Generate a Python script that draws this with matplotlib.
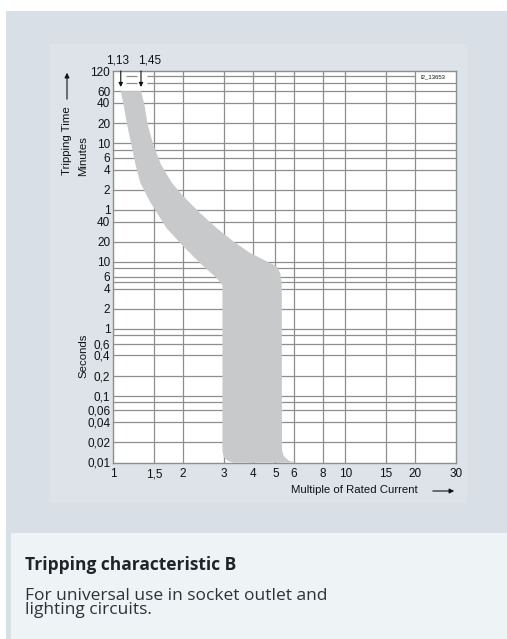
import matplotlib
matplotlib.use('Agg')
import matplotlib.pyplot as plt
from matplotlib.patches import Rectangle, FancyArrowPatch
from matplotlib.ticker import NullLocator

# ---------------- data ----------------
x_ticks = [1, 1.5, 2, 3, 4, 5, 6, 8, 10, 15, 20, 30]
x_grid = [1.5, 2, 3, 4, 5, 6, 8, 10, 15, 20]

# y axis in seconds; minute labels converted with *60
min_ticks = [120, 60, 40, 20, 10, 6, 4, 2, 1]
sec_ticks = [40, 20, 10, 6, 4, 2, 1, 0.6, 0.4, 0.2, 0.1, 0.06, 0.04, 0.02, 0.01]
min_grid = [60, 40, 20, 10, 8, 6, 4, 2, 1]
min_grid_top = [100, 80]
sec_grid = [40, 20, 10, 8, 6, 5, 4, 2, 1, 0.8, 0.6, 0.4, 0.2, 0.1, 0.08, 0.06, 0.04, 0.02]

# tripping band: lower limit (left edge), top to bottom
lower_x = [1.08, 1.11, 1.15, 1.20, 1.25, 1.31, 1.44, 1.70, 2.01, 2.37, 2.80, 2.96,
           2.96, 2.96, 3.00, 3.13, 3.30]
lower_t = [3600, 2275, 1140, 571, 286, 154, 81, 32, 17.1, 9.6, 5.7, 4.5,
           0.0164, 0.0146, 0.0120, 0.0105, 0.01]
# upper limit (right edge), top to bottom
upper_x = [1.32, 1.365, 1.41, 1.49, 1.61, 1.79, 2.01, 2.37, 2.80, 3.30, 3.90, 4.60,
           5.08, 5.25, 5.33, 5.34, 5.44, 5.75, 6.19]
upper_t = [3600, 2275, 1140, 571, 286, 154, 96, 54, 32, 20.3, 13.6, 10.2,
           8.6, 6.8, 4.6, 0.0153, 0.0124, 0.0105, 0.01]

ratings = ["1,13", "1,45"]
caption_title = "Tripping characteristic B"
caption_lines = ["For universal use in socket outlet and", "lighting circuits."]

# ---------------- figure ----------------
W, H = 507, 639
fig = plt.figure(figsize=(W / 100, H / 100), dpi=100)
fig.patch.set_facecolor('white')

FONT = ['Liberation Sans', 'DejaVu Sans']
TXT = '#111111'
GRID = '#8e8e8e'
FS = 8.5


def frect(x0, y0, x1, y1, color):
    fig.add_artist(Rectangle((x0 / W, 1 - y1 / H), (x1 - x0) / W, (y1 - y0) / H,
                             transform=fig.transFigure, facecolor=color,
                             edgecolor='none', zorder=-10))


def fpt(x, y):
    return (x / W, 1 - y / H)


frect(6, 11, 507, 639, '#d8dfe6')
frect(50, 44, 467, 503, '#dde3e9')
frect(11, 533, 507, 639, '#eef3f6')

ax = fig.add_axes([113 / W, 1 - 462.5 / H, (456 - 113) / W, (462.5 - 71) / H])
ax.set_xscale('log')
ax.set_yscale('log')
ax.set_xlim(1, 30)
ax.set_ylim(0.01, 7200)
ax.set_facecolor('white')
for s in ax.spines.values():
    s.set_color(GRID)
    s.set_linewidth(1.0)


def fmt(v):
    return f"{v:g}".replace('.', ',')


ax.set_xticks(x_ticks)
ax.set_xticklabels([])
yt = [m * 60 for m in min_ticks] + sec_ticks
yl = [fmt(m) for m in min_ticks] + [fmt(s) for s in sec_ticks]
ax.set_yticks(yt)
ax.set_yticklabels(yl)
ax.xaxis.set_minor_locator(NullLocator())
ax.yaxis.set_minor_locator(NullLocator())
ax.tick_params(axis='both', length=0, labelsize=FS, colors=TXT)
ax.tick_params(axis='y', pad=2)
for lab in ax.get_yticklabels():
    lab.set_family(FONT)

# x tick labels, all on one baseline
for v in x_ticks:
    ax.annotate(fmt(v), xy=(v, 0), xycoords=('data', 'axes fraction'),
                xytext=(0, -10.6), textcoords='offset points', ha='center',
                va='baseline', fontsize=FS, color=TXT, family=FONT,
                annotation_clip=False)

# grid
for xv in x_grid:
    ax.axvline(xv, color=GRID, lw=0.9, zorder=1)
for m in min_grid:
    ax.axhline(m * 60, color=GRID, lw=0.9, zorder=1)
for sv in sec_grid:
    ax.axhline(sv, color=GRID, lw=0.9, zorder=1)
ax.hlines([min_grid_top[0] * 60] * 2, [1.137, 1.40], [1.27, 20], color=GRID, lw=0.9, zorder=1)
ax.hlines([min_grid_top[1] * 60] * 2, [1.137, 1.40], [1.27, 30], color=GRID, lw=0.9, zorder=1)

# band
ax.fill(lower_x + upper_x[::-1], lower_t + upper_t[::-1], color='#c8c9cb', lw=0, zorder=2)

# rating arrows
for xv, lab, off in [(lower_x[0], ratings[0], -2.0), (upper_x[0], ratings[1], 6.5)]:
    ax.annotate('', xy=(xv, 4150), xytext=(xv, 7200),
                arrowprops=dict(arrowstyle='-|>', lw=0.8, color=TXT, mutation_scale=6,
                                shrinkA=0, shrinkB=0), zorder=3)
    ax.annotate(lab, xy=(xv, 7200), xytext=(off, 7.5), textcoords='offset points',
                ha='center', va='center', fontsize=FS, color=TXT, family=FONT,
                annotation_clip=False)

ax.text(23.9, 5790, 'I2_13653', fontsize=4.3, color=TXT, family=FONT,
        ha='center', va='center', zorder=3)

# axis labels
fig.text(*fpt(67.5, 141), 'Tripping Time', rotation=90, ha='center', va='center',
         fontsize=8.2, color=TXT, family=FONT)
fig.add_artist(FancyArrowPatch(
    fpt(67, 102), fpt(67, 70), transform=fig.transFigure, arrowstyle='-|>',
    mutation_scale=7, lw=0.8, color=TXT))
fig.text(*fpt(83.5, 156), 'Minutes', rotation=90, ha='center', va='center',
         fontsize=8.2, color=TXT, family=FONT)
fig.text(*fpt(83, 356), 'Seconds', rotation=90, ha='center', va='center',
         fontsize=8.2, color=TXT, family=FONT)
fig.text(*fpt(290.7, 490), 'Multiple of Rated Current', ha='left', va='center',
         fontsize=8.2, color=TXT, family=FONT)
fig.add_artist(FancyArrowPatch(
    fpt(430, 491), fpt(457, 491), transform=fig.transFigure, arrowstyle='-|>',
    mutation_scale=7, lw=0.8, color=TXT))

# caption
BF = ['Open Sans', 'DejaVu Sans']
fig.text(*fpt(25, 569.5), caption_title, ha='left', va='baseline',
         fontsize=12.5, fontweight='bold', color='#1f2429', family=BF)
for txt, yb in zip(caption_lines, [599.5, 614.5]):
    fig.text(*fpt(25, yb), txt, ha='left', va='baseline', fontsize=12.5,
             color='#2d3238', family=BF)

fig.savefig('out.png', dpi=100, facecolor=fig.get_facecolor())
